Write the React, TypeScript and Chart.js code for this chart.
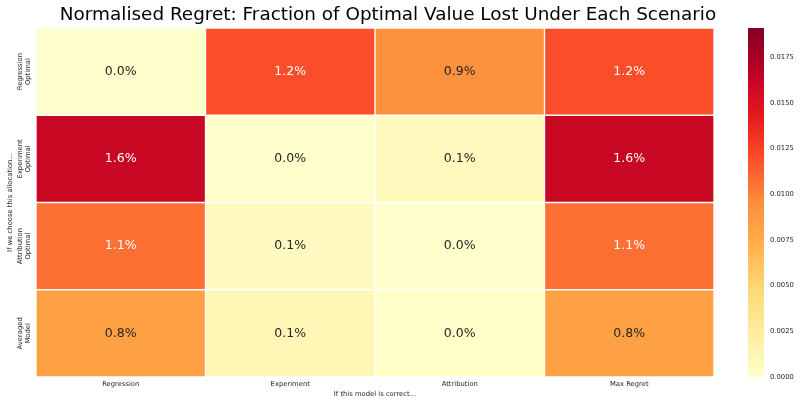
import React, { useEffect, useRef } from "react";
import { Chart, registerables } from "chart.js";
Chart.register(...registerables);

const titleText = "Normalised Regret: Fraction of Optimal Value Lost Under Each Scenario";
const xTitle = "If this model is correct...";
const yTitle = "If we choose this allocation...";
const rowLabels = [["Regression", "Optimal"], ["Experiment", "Optimal"], ["Attribution", "Optimal"], ["Averaged", "Model"]];
const colLabels = ["Regression", "Experiment", "Attribution", "Max Regret"];
const rowRegression = [0.0, 0.0120, 0.0093, 0.0120];
const rowExperiment = [0.0160, 0.0, 0.0008, 0.0160];
const rowAttribution = [0.0107, 0.0006, 0.0, 0.0107];
const rowAveraged = [0.0083, 0.0012, 0.0002, 0.0083];
const colorMin = 0;
const colorMax = 0.0191;
const colorTicks = [0, 0.0025, 0.005, 0.0075, 0.01, 0.0125, 0.015, 0.0175];

const YLORRD = ["#ffffcc", "#ffeda0", "#fed976", "#feb24c", "#fd8d3c", "#fc4e2a", "#e31a1c", "#bd0026", "#800026"];

function hexToRgb(h: string) {
  return [parseInt(h.slice(1, 3), 16), parseInt(h.slice(3, 5), 16), parseInt(h.slice(5, 7), 16)];
}
function cmap(v: number) {
  let t = (v - colorMin) / (colorMax - colorMin);
  t = Math.max(0, Math.min(1, t));
  const p = t * (YLORRD.length - 1);
  const i = Math.min(Math.floor(p), YLORRD.length - 2);
  const f = p - i;
  const a = hexToRgb(YLORRD[i]);
  const b = hexToRgb(YLORRD[i + 1]);
  return [0, 1, 2].map((k) => Math.round(a[k] + (b[k] - a[k]) * f));
}
function rgbStr(c: number[]) {
  return `rgb(${c[0]},${c[1]},${c[2]})`;
}
function lum(c: number[]) {
  const lin = c.map((x) => {
    const s = x / 255;
    return s <= 0.03928 ? s / 12.92 : Math.pow((s + 0.055) / 1.055, 2.4);
  });
  return 0.2126 * lin[0] + 0.7152 * lin[1] + 0.0722 * lin[2];
}

const rows = [rowRegression, rowExperiment, rowAttribution, rowAveraged];

const annotate = {
  id: "annotate",
  afterDatasetsDraw(chart: any) {
    const ctx = chart.ctx;
    ctx.save();
    ctx.font = "12.5px 'DejaVu Sans'";
    ctx.textAlign = "center";
    ctx.textBaseline = "middle";
    chart.data.datasets.forEach((ds: any, di: number) => {
      const meta = chart.getDatasetMeta(di);
      meta.data.forEach((el: any, j: number) => {
        const v = ds.values[j];
        const c = cmap(v);
        ctx.fillStyle = lum(c) > 0.408 ? "#262626" : "#ffffff";
        ctx.fillText((v * 100).toFixed(1) + "%", el.x, (el.y + el.base) / 2);
      });
    });
    ctx.restore();
  },
};

const colorbar = {
  id: "colorbar",
  afterDraw(chart: any) {
    const s = chart.scales.cb;
    const ctx = chart.ctx;
    const x0 = s.left + 34;
    const w = 16;
    const top = s.getPixelForValue(colorMax);
    const bottom = s.getPixelForValue(colorMin);
    const g = ctx.createLinearGradient(0, bottom, 0, top);
    YLORRD.forEach((c, i) => g.addColorStop(i / (YLORRD.length - 1), c));
    ctx.save();
    ctx.fillStyle = g;
    ctx.fillRect(x0, top, w, bottom - top);
    ctx.restore();
  },
};

export default function App() {
  const ref = useRef<HTMLCanvasElement>(null);
  useEffect(() => {
    document.body.style.margin = "0";
    Chart.defaults.font.family = "'DejaVu Sans'";
    const datasets = rows.map((vals, i) => ({
      label: rowLabels[i].join(" "),
      values: vals,
      data: colLabels.map((c) => ({ x: c, y: [i, i + 1] })),
      backgroundColor: vals.map((v) => rgbStr(cmap(v))),
      borderColor: "#ffffff",
      borderWidth: 1,
      borderSkipped: false,
      barPercentage: 1,
      categoryPercentage: 1,
      grouped: false,
    }));
    const chart = new Chart(ref.current as HTMLCanvasElement, {
      type: "bar",
      data: { labels: colLabels, datasets: datasets as any },
      options: {
        animation: false,
        responsive: false,
        devicePixelRatio: 1,
        layout: { padding: { left: -24, right: 0, top: 0, bottom: 0 } },
        plugins: {
          legend: { display: false },
          tooltip: { enabled: false },
          title: {
            display: true,
            text: titleText,
            color: "#000000",
            font: { size: 18.4, weight: "normal" as any, family: "'DejaVu Sans'", lineHeight: 1.2 },
            padding: { top: 4, bottom: 1.9 },
          },
        },
        scales: {
          x: {
            type: "category",
            offset: true,
            grid: { display: false, drawTicks: false },
            border: { display: false },
            ticks: { font: { size: 6.8 }, color: "#262626", padding: 3, maxRotation: 0, autoSkip: false },
            title: { display: true, text: xTitle, font: { size: 6.8 }, color: "#262626", padding: { top: 0, bottom: 7 } },
            afterFit: (s: any) => { s.height = 28; },
          },
          y: {
            type: "linear",
            min: 0,
            max: 4,
            reverse: true,
            afterBuildTicks: (s: any) => { s.ticks = [0.5, 1.5, 2.5, 3.5].map((v) => ({ value: v })); },
            grid: { display: false, drawTicks: false },
            border: { display: false },
            ticks: {
              font: { size: 6.8, lineHeight: 1.2 },
              color: "#262626",
              minRotation: 90,
              maxRotation: 90,
              crossAlign: "center",
              padding: -8,
              autoSkip: false,
              callback: (v: any) => rowLabels[Math.floor(Number(v))],
            },
            title: { display: true, text: yTitle, font: { size: 6.8 }, color: "#262626", padding: { top: 30, bottom: 0 } },
            afterFit: (s: any) => { s.width = 60; },
          },
          cb: {
            type: "linear",
            position: "right",
            min: colorMin,
            max: colorMax,
            afterBuildTicks: (s: any) => { s.ticks = colorTicks.map((v) => ({ value: v })); },
            grid: { display: true, drawOnChartArea: false, drawTicks: true, tickLength: 54, tickColor: "rgba(0,0,0,0)" },
            border: { display: false },
            ticks: {
              font: { size: 6.8 },
              color: "#262626",
              padding: 2,
              autoSkip: false,
              callback: (v: any) => Number(v).toFixed(4),
            },
            afterFit: (s: any) => { s.width = 86; },
          },
        },
      },
      plugins: [annotate, colorbar],
    } as any);
    return () => chart.destroy();
  }, []);
  return (
    <div style={{ width: 800, height: 405 }}>
      <canvas ref={ref} width={800} height={405} />
    </div>
  );
}
